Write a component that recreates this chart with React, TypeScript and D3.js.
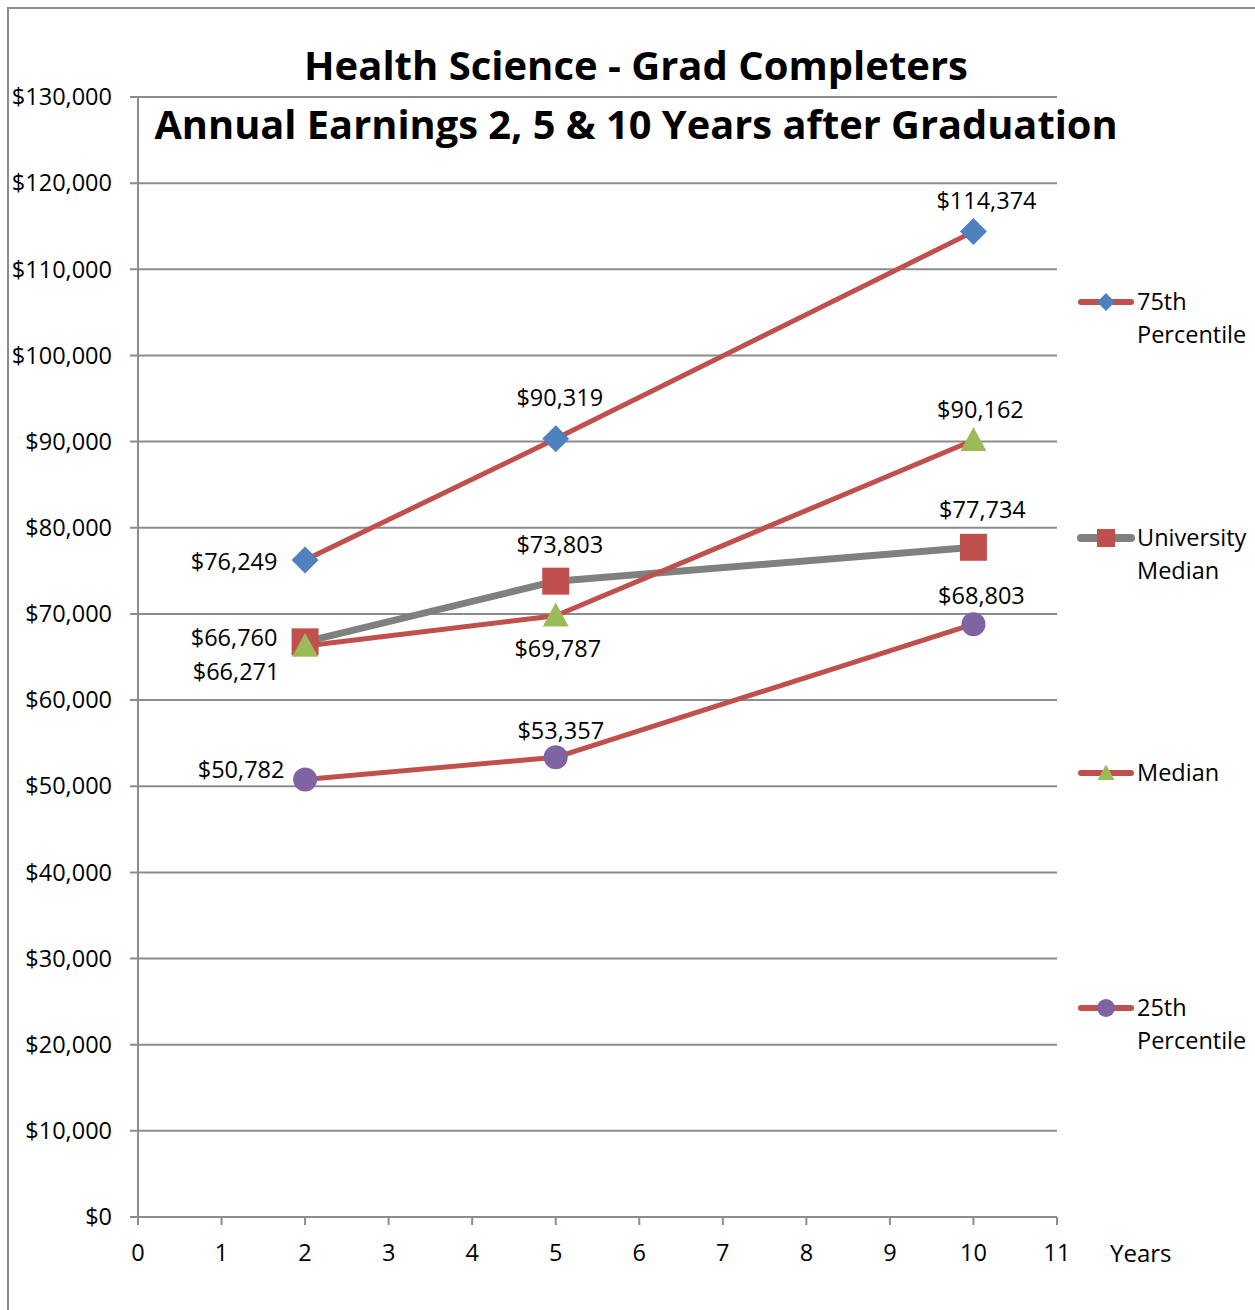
import React from "react";
import * as d3 from "d3";

// data
const years = [2, 5, 10];
const p75 = [76249, 90319, 114374];
const univMedian = [66760, 73803, 77734];
const median = [66271, 69787, 90162];
const p25 = [50782, 53357, 68803];
const yTicks = d3.range(0, 130001, 10000);
const xTicks = d3.range(0, 12, 1);

const W = 1255;
const H = 1310;
const FONT = "'Open Sans', 'DejaVu Sans', sans-serif";
const FS = 23.5;

const x = d3.scaleLinear().domain([0, 11]).range([138, 1057]);
const y = d3.scaleLinear().domain([0, 130000]).range([1217, 97]);

type Shape = "diamond" | "square" | "triangle" | "circle";

const series = [
  { name: ["75th", "Percentile"], values: p75, line: "#C0504D", lw: 5, marker: "diamond" as Shape, mfill: "#4F81BD", legendY: 302,
    labels: [[-71, 2], [4, -41], [13, -31]] },
  { name: ["University", "Median"], values: univMedian, line: "#808080", lw: 7, marker: "square" as Shape, mfill: "#C0504D", legendY: 538,
    labels: [[-71, -4], [4, -36], [9, -38]] },
  { name: ["Median"], values: median, line: "#C0504D", lw: 5, marker: "triangle" as Shape, mfill: "#9BBB59", legendY: 773,
    labels: [[-69, 26], [2, 33], [7, -30]] },
  { name: ["25th", "Percentile"], values: p25, line: "#C0504D", lw: 5, marker: "circle" as Shape, mfill: "#8064A2", legendY: 1008,
    labels: [[-64, -10], [5, -27], [8, -28]] },
];

function markerPath(shape: Shape, cx: number, cy: number, s: number) {
  const p = d3.path();
  const h = s / 2;
  if (shape === "diamond") {
    p.moveTo(cx, cy - h);
    p.lineTo(cx + h, cy);
    p.lineTo(cx, cy + h);
    p.lineTo(cx - h, cy);
    p.closePath();
  } else if (shape === "square") {
    p.rect(cx - h, cy - h, s, s);
  } else if (shape === "triangle") {
    const th = s * 0.92;
    p.moveTo(cx, cy - th * 0.55);
    p.lineTo(cx + h, cy + th * 0.45);
    p.lineTo(cx - h, cy + th * 0.45);
    p.closePath();
  } else {
    p.arc(cx, cy, h, 0, Math.PI * 2);
  }
  return p.toString();
}

const mainSize: Record<Shape, number> = { diamond: 27, square: 27, triangle: 26, circle: 24 };
const legendSize: Record<Shape, number> = { diamond: 18, square: 18, triangle: 17, circle: 18 };

const fmt = d3.format("$,");

export default function App() {
  const line = d3
    .line<number>()
    .x((_, i) => x(years[i]))
    .y((d) => y(d));

  return (
    <svg
      width={W}
      height={H}
      style={{ position: "absolute", left: 0, top: 0, background: "#fff" }}
      fontFamily={FONT}
    >
      <rect width={W} height={H} fill="#fff" />
      {/* outer frame */}
      <path d={`M8,${H} L8,8 L${W},8`} fill="none" stroke="#8c8c8c" strokeWidth={2} />

      {/* gridlines + y axis */}
      {yTicks.map((t) => (
        <g key={t}>
          <line x1={130} x2={1057} y1={y(t)} y2={y(t)} stroke="#8c8c8c" strokeWidth={2} />
          <text x={112} y={y(t)} dy="0.35em" textAnchor="end" fontSize={FS} fill="#000">
            {fmt(t)}
          </text>
        </g>
      ))}
      <line x1={x(0)} x2={x(0)} y1={y(130000)} y2={y(0)} stroke="#8c8c8c" strokeWidth={2} />

      {/* x axis ticks */}
      {xTicks.map((t) => (
        <g key={t}>
          <line x1={x(t)} x2={x(t)} y1={y(0)} y2={y(0) + 8} stroke="#8c8c8c" strokeWidth={2} />
          <text x={x(t)} y={1261} textAnchor="middle" fontSize={FS} fill="#000">
            {t}
          </text>
        </g>
      ))}
      <text x={1110} y={1262} fontSize={24} fill="#000">Years</text>

      {/* title */}
      <text x={636} y={80} textAnchor="middle" fontSize={40} fontWeight="bold" fill="#000">
        Health Science - Grad Completers
      </text>
      <text x={636} y={139} textAnchor="middle" fontSize={39.8} fontWeight="bold" fill="#000">
        Annual Earnings 2, 5 &amp; 10 Years after Graduation
      </text>

      {/* series */}
      {series.map((s, si) => (
        <g key={si}>
          <path d={line(s.values) || ""} fill="none" stroke={s.line} strokeWidth={s.lw} strokeLinejoin="round" />
          {s.values.map((v, i) => (
            <path key={i} d={markerPath(s.marker, x(years[i]), y(v), mainSize[s.marker])} fill={s.mfill} />
          ))}
        </g>
      ))}

      {/* data labels */}
      {series.map((s, si) =>
        s.values.map((v, i) => (
          <text
            key={`${si}-${i}`}
            x={x(years[i]) + s.labels[i][0]}
            y={y(v) + s.labels[i][1]}
            dy="0.35em"
            textAnchor="middle"
            fontSize={FS}
            fill="#000"
          >
            {fmt(v)}
          </text>
        ))
      )}

      {/* legend */}
      {series.map((s, si) => (
        <g key={si}>
          <line x1={1081} x2={1131} y1={s.legendY} y2={s.legendY} stroke={s.line} strokeWidth={s.lw + 1} strokeLinecap="round" />
          <path d={markerPath(s.marker, 1106, s.legendY, legendSize[s.marker])} fill={s.mfill} />
          {s.name.map((n, k) => (
            <text key={k} x={1137} y={s.legendY + 8 + k * 33} fontSize={FS} fill="#000">
              {n}
            </text>
          ))}
        </g>
      ))}
    </svg>
  );
}
